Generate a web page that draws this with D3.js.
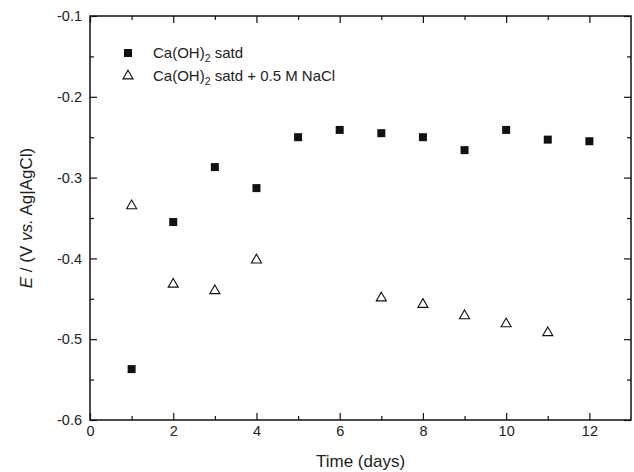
<!DOCTYPE html>
<html>
<head>
<meta charset="utf-8">
<script src="https://cdn.jsdelivr.net/npm/d3@7"></script>
<style>
  body { margin: 0; background: #fff; }
  svg { display: block; font-family: "Liberation Sans", Arial, sans-serif; }
</style>
</head>
<body>
<svg id="chart" width="634" height="472"></svg>
<script>
(function () {

    // data
    let days = [1, 2, 3, 4, 5, 6, 7, 8, 9, 10, 11, 12];
    let satd = [-0.537, -0.355, -0.287, -0.313, -0.250, -0.241, -0.245, -0.250, -0.266, -0.241, -0.253, -0.255];
    let naclDays = [1, 2, 3, 4, 7, 8, 9, 10, 11];
    let nacl = [-0.335, -0.432, -0.440, -0.402, -0.449, -0.457, -0.471, -0.481, -0.492];

    let xTicks = [0, 2, 4, 6, 8, 10, 12];
    let xMinor = [1, 3, 5, 7, 9, 11];
    let yTicks = [-0.6, -0.5, -0.4, -0.3, -0.2, -0.1];
    let yMinor = [-0.55, -0.45, -0.35, -0.25, -0.15];

    let margin = { left: 90, right: 3, top: 16, bottom: 52 };

    let canvas = d3.select("#chart");
    let width = +canvas.attr("width");
    let height = +canvas.attr("height");
    let w = width - margin.left - margin.right;
    let h = height - margin.top - margin.bottom;

    let xScale = d3.scaleLinear().domain([0, 13]).range([0, w]);
    let yScale = d3.scaleLinear().domain([-0.6, -0.1]).range([h, 0]);

    let g = canvas.append("g")
        .attr("transform", `translate(${margin.left}, ${margin.top})`);

    function styleAxis(sel) {
        sel.select(".domain").remove();
        sel.selectAll(".tick line").attr("stroke", "#111").attr("stroke-width", 1.2);
        sel.selectAll(".tick text").attr("fill", "#222").attr("font-size", 14.5)
            .attr("font-family", "'Liberation Sans', Arial, sans-serif");
    }

    // bottom / top
    g.append("g").attr("transform", `translate(0, ${h})`)
        .call(d3.axisBottom(xScale).tickValues(xTicks).tickSizeInner(-7).tickSizeOuter(0).tickPadding(6).tickFormat(d3.format("d")))
        .call(styleAxis);
    g.append("g").attr("transform", `translate(0, ${h})`)
        .call(d3.axisBottom(xScale).tickValues(xMinor).tickSizeInner(-4).tickSizeOuter(0).tickFormat(""))
        .call(styleAxis);
    g.append("g")
        .call(d3.axisTop(xScale).tickValues(xTicks).tickSizeInner(-7).tickSizeOuter(0).tickFormat(""))
        .call(styleAxis);
    g.append("g")
        .call(d3.axisTop(xScale).tickValues(xMinor).tickSizeInner(-4).tickSizeOuter(0).tickFormat(""))
        .call(styleAxis);

    // left / right
    g.append("g")
        .call(d3.axisLeft(yScale).tickValues(yTicks).tickSizeInner(-7).tickSizeOuter(0).tickPadding(8).tickFormat(d => d.toFixed(1)))
        .call(styleAxis);
    g.append("g")
        .call(d3.axisLeft(yScale).tickValues(yMinor).tickSizeInner(-4).tickSizeOuter(0).tickFormat(""))
        .call(styleAxis);
    g.append("g").attr("transform", `translate(${w}, 0)`)
        .call(d3.axisRight(yScale).tickValues(yTicks).tickSizeInner(-7).tickSizeOuter(0).tickFormat(""))
        .call(styleAxis);
    g.append("g").attr("transform", `translate(${w}, 0)`)
        .call(d3.axisRight(yScale).tickValues(yMinor).tickSizeInner(-4).tickSizeOuter(0).tickFormat(""))
        .call(styleAxis);

    // frame
    g.append("rect")
        .attr("x", 0).attr("y", 0)
        .attr("width", w).attr("height", h)
        .attr("fill", "none")
        .attr("stroke", "#111")
        .attr("stroke-width", 1.5);

    // series
    let sq = 8;
    g.selectAll("rect.satd")
        .data(days.map((d, i) => ({ x: d, y: satd[i] })))
        .enter().append("rect")
        .attr("class", "satd")
        .attr("x", d => xScale(d.x) - sq / 2)
        .attr("y", d => yScale(d.y) - sq / 2)
        .attr("width", sq).attr("height", sq)
        .attr("fill", "#111");

    let tri = d3.symbol().type(d3.symbolTriangle).size(44);
    g.selectAll("path.nacl")
        .data(naclDays.map((d, i) => ({ x: d, y: nacl[i] })))
        .enter().append("path")
        .attr("class", "nacl")
        .attr("d", tri)
        .attr("transform", d => `translate(${xScale(d.x)}, ${yScale(d.y)})`)
        .attr("fill", "#fff")
        .attr("stroke", "#111")
        .attr("stroke-width", 1.1);

    // legend
    let legend = canvas.append("g").attr("font-size", 15).attr("fill", "#222");
    legend.append("rect")
        .attr("x", 128 - sq / 2).attr("y", 53 - sq / 2)
        .attr("width", sq).attr("height", sq).attr("fill", "#111");
    legend.append("path")
        .attr("d", tri)
        .attr("transform", "translate(128, 76)")
        .attr("fill", "#fff").attr("stroke", "#111").attr("stroke-width", 1.1);

    let t1 = legend.append("text").attr("x", 153).attr("y", 58);
    t1.append("tspan").text("Ca(OH)");
    t1.append("tspan").attr("font-size", 10.5).attr("dy", 4).text("2");
    t1.append("tspan").attr("dy", -4).text(" satd");

    let t2 = legend.append("text").attr("x", 153).attr("y", 81);
    t2.append("tspan").text("Ca(OH)");
    t2.append("tspan").attr("font-size", 10.5).attr("dy", 4).text("2");
    t2.append("tspan").attr("dy", -4).text(" satd + 0.5 M NaCl");

    // axis titles
    canvas.append("text")
        .attr("x", margin.left + xScale(6.5))
        .attr("y", 467)
        .attr("text-anchor", "middle")
        .attr("font-size", 17)
        .attr("fill", "#222")
        .text("Time (days)");

    let yt = canvas.append("text")
        .attr("transform", `translate(32, ${margin.top + h / 2}) rotate(-90)`)
        .attr("text-anchor", "middle")
        .attr("font-size", 17)
        .attr("fill", "#222");
    yt.append("tspan").attr("font-style", "italic").text("E");
    yt.append("tspan").text(" / (V ");
    yt.append("tspan").attr("font-style", "italic").text("vs.");
    yt.append("tspan").text(" Ag|AgCl)");

})();
</script>
</body>
</html>
